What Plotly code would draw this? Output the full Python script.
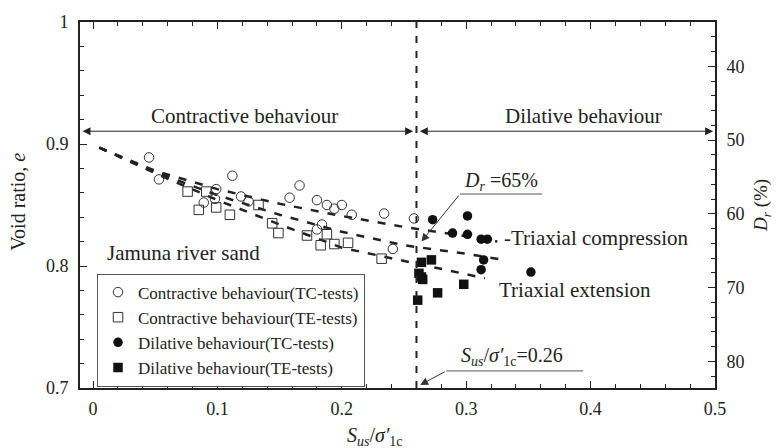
import plotly.graph_objects as go

# ---------------- data ----------------
tc_con_x = [0.045, 0.053, 0.089, 0.098, 0.099, 0.112, 0.119, 0.125, 0.158, 0.166,
            0.180, 0.180, 0.184, 0.188, 0.194, 0.200, 0.208, 0.234, 0.241, 0.258]
tc_con_e = [0.889, 0.871, 0.852, 0.855, 0.863, 0.874, 0.857, 0.853, 0.856, 0.866,
            0.854, 0.830, 0.834, 0.850, 0.847, 0.850, 0.842, 0.843, 0.814, 0.839]

te_con_x = [0.076, 0.085, 0.091, 0.099, 0.110, 0.133, 0.144, 0.149, 0.172, 0.183,
            0.188, 0.194, 0.205, 0.232]
te_con_e = [0.861, 0.846, 0.861, 0.848, 0.842, 0.850, 0.835, 0.827, 0.825, 0.817,
            0.826, 0.818, 0.819, 0.806]

tc_dil_x = [0.273, 0.289, 0.301, 0.301, 0.312, 0.317, 0.314, 0.312, 0.352]
tc_dil_e = [0.838, 0.827, 0.841, 0.826, 0.822, 0.822, 0.805, 0.797, 0.795]

te_dil_x = [0.264, 0.272, 0.262, 0.264, 0.265, 0.277, 0.298, 0.261]
te_dil_e = [0.803, 0.805, 0.794, 0.791, 0.789, 0.778, 0.785, 0.772]

# trend curves (dashed)
upper_x = [0.005, 0.05, 0.10, 0.15, 0.20, 0.25, 0.29, 0.325]
upper_e = [0.897, 0.878, 0.863, 0.851, 0.841, 0.832, 0.826, 0.820]
middle_x = [0.005, 0.05, 0.10, 0.15, 0.20, 0.25, 0.30, 0.33]
middle_e = [0.897, 0.877, 0.858, 0.842, 0.828, 0.817, 0.810, 0.805]
lower_x = [0.005, 0.05, 0.10, 0.15, 0.20, 0.25, 0.28, 0.315]
lower_e = [0.897, 0.876, 0.854, 0.834, 0.815, 0.804, 0.798, 0.790]

legend_names = ["Contractive behaviour(TC-tests)", "Contractive behaviour(TE-tests)",
                "Dilative behaviour(TC-tests)", "Dilative behaviour(TE-tests)"]

x_ticks = [0, 0.1, 0.2, 0.3, 0.4, 0.5]
e_ticks = [0.7, 0.8, 0.9, 1.0]
dr_ticks = [40, 50, 60, 70, 80]

su_boundary = 0.26
arrow_e = 0.9105

FONT = "Liberation Serif"
INK = "#222"

fig = go.Figure()

for cx, ce in [(upper_x, upper_e), (middle_x, middle_e), (lower_x, lower_e)]:
    fig.add_trace(go.Scatter(x=cx, y=ce, mode="lines", showlegend=False, hoverinfo="skip",
                             line=dict(color=INK, width=2.5, dash="8px,9px")))

fig.add_trace(go.Scatter(x=tc_con_x, y=tc_con_e, mode="markers", name=legend_names[0],
                         marker=dict(symbol="circle-open", size=9.5, color="#333",
                                     line=dict(width=1, color="#333"))))
fig.add_trace(go.Scatter(x=te_con_x, y=te_con_e, mode="markers", name=legend_names[1],
                         marker=dict(symbol="square-open", size=9.5, color="#333",
                                     line=dict(width=1, color="#333"))))
fig.add_trace(go.Scatter(x=tc_dil_x, y=tc_dil_e, mode="markers", name=legend_names[2],
                         marker=dict(symbol="circle", size=9.5, color="#111")))
fig.add_trace(go.Scatter(x=te_dil_x, y=te_dil_e, mode="markers", name=legend_names[3],
                         marker=dict(symbol="square", size=9.5, color="#111")))

# invisible trace so the Dr axis is drawn
fig.add_trace(go.Scatter(x=[0.5], y=[50], yaxis="y2", mode="markers", showlegend=False,
                         hoverinfo="skip", marker=dict(opacity=0)))

# vertical boundary line
fig.add_shape(type="line", xref="x", yref="y", x0=su_boundary, x1=su_boundary, y0=0.7, y1=1.0,
              line=dict(color=INK, width=2, dash="7px,8px"))

# underlines of pointer labels
fig.add_shape(type="line", xref="x", yref="y", x0=0.295, x1=0.361, y0=0.859, y1=0.859,
              line=dict(color="#555", width=1))
fig.add_shape(type="line", xref="x", yref="y", x0=0.284, x1=0.394, y0=0.714, y1=0.714,
              line=dict(color="#555", width=1))

ann = []
# horizontal double arrows
for x_head, x_tail in [(-0.0085, 0.2585), (0.4985, 0.2615)]:
    ann.append(dict(x=x_head, y=arrow_e, ax=x_tail, ay=arrow_e, xref="x", yref="y",
                    axref="x", ayref="y", text="", showarrow=True, arrowside="end+start",
                    arrowhead=2, arrowsize=1.6, arrowwidth=1, arrowcolor="#222"))
# pointers
ann.append(dict(x=0.264, y=0.820, ax=0.295, ay=0.859, xref="x", yref="y", axref="x", ayref="y",
                text="", showarrow=True, arrowhead=2, arrowsize=1.6, arrowwidth=1, arrowcolor="#333"))
ann.append(dict(x=0.263, y=0.7025, ax=0.284, ay=0.714, xref="x", yref="y", axref="x", ayref="y",
                text="", showarrow=True, arrowhead=2, arrowsize=1.6, arrowwidth=1, arrowcolor="#333"))

def txt(x, y, s, size=21, xanchor="center", yanchor="middle", **kw):
    d = dict(x=x, y=y, xref="x", yref="y", text=s, showarrow=False, xanchor=xanchor,
             yanchor=yanchor, font=dict(family=FONT, size=size, color=INK))
    d.update(kw)
    return d

ann.append(txt(0.122, 0.9226, "Contractive behaviour"))
ann.append(txt(0.394, 0.9226, "Dilative behaviour"))
ann.append(txt(0.0095, 0.8105, "Jamuna river sand", xanchor="left"))
ann.append(txt(0.3285, 0.8226, "-Triaxial compression", xanchor="left"))
ann.append(txt(0.3245, 0.780, "Triaxial extension", xanchor="left"))
ann.append(txt(0.328, 0.869, "<i>D<sub>r</sub></i> =65%", size=20))
ann.append(txt(0.337, 0.7255, "<i>S<sub>us</sub></i>/<i>σ′</i><sub>1c</sub>=0.26", size=20))

# axis titles
ann.append(dict(x=0.2265, y=-0.132, xref="x", yref="paper", showarrow=False,
                text="<i>S<sub>us</sub></i>/<i>σ′</i><sub>1c</sub>",
                font=dict(family=FONT, size=20, color=INK), xanchor="center", yanchor="middle"))
ann.append(dict(x=-0.097, y=0.51, xref="paper", yref="paper", showarrow=False, textangle=-90,
                text="Void ratio, <i>e</i>", font=dict(family=FONT, size=20, color=INK),
                xanchor="center", yanchor="middle"))
ann.append(dict(x=1.074, y=0.50, xref="paper", yref="paper", showarrow=False, textangle=-90,
                text="<i>D<sub>r</sub></i> (%)", font=dict(family=FONT, size=19, color=INK),
                xanchor="center", yanchor="middle"))

tickfont = dict(family=FONT, size=18, color=INK)
fig.update_layout(
    width=777, height=448,
    margin=dict(l=80, r=62, t=17, b=60),
    paper_bgcolor="white", plot_bgcolor="white",
    font=dict(family=FONT, color=INK),
    showlegend=True,
    legend=dict(x=0.0268, y=0.3127, xanchor="left", yanchor="top",
                bordercolor="#555", borderwidth=1, bgcolor="white",
                font=dict(family=FONT, size=17, color=INK), tracegroupgap=0),
    xaxis=dict(range=[-0.0105, 0.5], tickvals=x_ticks, ticktext=[str(v) if v else "0" for v in x_ticks],
               ticks="inside", ticklen=7, tickwidth=1, tickcolor=INK,
               minor=dict(dtick=0.02, tick0=0, ticks="inside", ticklen=4, tickcolor=INK),
               showline=True, linecolor=INK, linewidth=2, mirror="ticks",
               showgrid=False, zeroline=False, tickfont=tickfont, ticklabelstandoff=3),
    yaxis=dict(range=[0.7, 1.0], tickvals=e_ticks, ticktext=["0.7", "0.8", "0.9", "1"],
               ticks="inside", ticklen=7, tickwidth=1, tickcolor=INK,
               minor=dict(dtick=0.02, tick0=0.7, ticks="inside", ticklen=4, tickcolor=INK),
               showline=True, linecolor=INK, linewidth=2, mirror=False,
               showgrid=False, zeroline=False, tickfont=tickfont, ticklabelstandoff=6),
    yaxis2=dict(overlaying="y", side="right", range=[83.6, 34.0], tickvals=dr_ticks,
                ticks="inside", ticklen=7, tickwidth=1, tickcolor=INK,
                minor=dict(dtick=2, tick0=40, ticks="inside", ticklen=4, tickcolor=INK),
                showline=True, linecolor=INK, linewidth=2,
                showgrid=False, zeroline=False, tickfont=tickfont, ticklabelstandoff=6),
    annotations=ann,
)

fig.write_html("out.html")
